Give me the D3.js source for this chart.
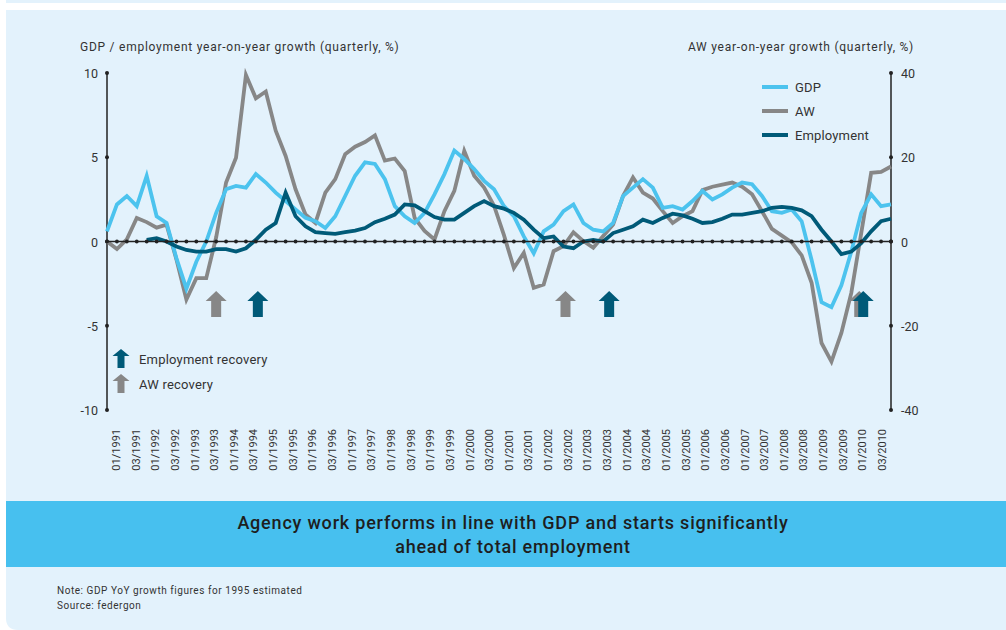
<!DOCTYPE html>
<html><head><meta charset="utf-8">
<script src="https://cdn.jsdelivr.net/npm/d3@7"></script>
<style>
html,body{margin:0;padding:0;background:#fff;}
svg{display:block;font-family:Roboto,"Open Sans",sans-serif;}
</style></head>
<body>
<svg id="c" width="1006" height="630"></svg>
<script>
// ---------- data ----------
const quarterLabels = [];
for (let y = 1991; y <= 2010; y++) { quarterLabels.push("01/" + y); quarterLabels.push("03/" + y); }
const quarters = d3.range(0, 80); // 1991Q1 .. 2010Q4

const gdp = [0.6,2.2,2.7,2.1,3.9,1.5,1.1,-1.0,-2.8,-1.2,
  0.0,1.7,3.1,3.3,3.2,4.0,3.5,2.9,2.4,1.9,
  1.4,1.2,0.8,1.5,2.7,3.9,4.7,4.6,3.7,2.1,
  1.5,1.1,1.7,2.8,4.0,5.4,4.9,4.3,3.6,3.1,
  2.1,1.5,0.3,-0.7,0.6,1.0,1.8,2.2,1.1,0.7,
  0.6,1.1,2.7,3.2,3.7,3.2,2.0,2.1,1.9,2.4,
  3.0,2.5,2.8,3.2,3.5,3.4,2.7,1.8,1.7,1.9,
  1.2,-1.1,-3.6,-3.9,-2.6,-0.6,1.7,2.8,2.1,2.2];

const employment = [null,null,null,null,0.1,0.2,0.0,-0.3,-0.5,-0.6,
  -0.6,-0.45,-0.45,-0.6,-0.4,0.1,0.7,1.1,2.9,1.5,
  0.9,0.55,0.5,0.45,0.55,0.65,0.8,1.15,1.35,1.6,
  2.2,2.15,1.8,1.45,1.3,1.3,1.7,2.1,2.4,2.1,
  1.95,1.7,1.3,0.7,0.2,0.3,-0.3,-0.4,0.0,0.1,
  0.0,0.5,0.7,0.9,1.3,1.1,1.4,1.65,1.55,1.35,
  1.1,1.15,1.35,1.6,1.6,1.7,1.8,2.0,2.05,2.0,
  1.85,1.5,0.7,0.0,-0.75,-0.6,-0.1,0.6,1.2,1.35];

const aw = [0,-1.8,0.5,5.6,4.6,3.3,4.0,-4.3,-13.8,-8.7,
  -8.7,1.0,14.0,19.9,39.5,34.0,35.6,26.3,20.3,12.4,
  6.4,4.4,11.6,14.8,20.7,22.5,23.6,25.2,19.2,19.7,
  16.7,5.6,2.5,0.5,7.2,12.0,21.5,15.6,12.8,8.5,
  1.5,-6.3,-2.7,-11.0,-10.2,-2.3,-1.1,2.2,0.1,-1.5,
  1.3,4.0,10.8,15.2,11.6,10.2,7.2,4.4,6.0,7.2,
  12.2,13.0,13.5,14.0,13.0,11.2,7.2,3.0,1.4,-0.2,
  -3.3,-9.8,-24.1,-28.5,-21.7,-12.2,2.0,16.3,16.5,17.8];

const leftTicks = [10,5,0,-5,-10];
const rightTicks = [40,20,0,-20,-40];

const seriesNames = ["GDP","AW","Employment"];
const seriesColors = ["#4cc3ee","#878787","#005a78"];

// recovery arrows: quarter position (index units) and type
const arrowPos  = [11.0, 15.2, 46.2, 50.6, 75.8, 76.2];
const arrowType = ["AW","Employment","AW","Employment","AW","Employment"];
const arrowColor = {"AW":"#878787","Employment":"#005a78"};

// ---------- drawing ----------
const svg = d3.select("#c");
const bg = "#e3f2fc";
const textCol = "#333";

// background panel
svg.append("rect").attr("x",6).attr("y",0).attr("width",1000).attr("height",3).attr("fill",bg);
svg.append("path").attr("fill",bg)
  .attr("d","M6,10 H1006 V630 H18 Q6,630 6,618 Z");

const x = d3.scaleLinear().domain([0,79]).range([107,891]);
const yL = d3.scaleLinear().domain([-10,10]).range([410,73]);
const yR = d3.scaleLinear().domain([-40,40]).range([410,73]);

// axis titles
svg.append("text").attr("x",80).attr("y",51).attr("font-size",12).attr("letter-spacing",0.75).attr("fill",textCol)
  .text("GDP / employment year-on-year growth (quarterly, %)");
svg.append("text").attr("x",914).attr("y",51).attr("text-anchor","end").attr("font-size",12).attr("letter-spacing",0.75).attr("fill",textCol)
  .text("AW year-on-year growth (quarterly, %)");

// left axis
const gL = svg.append("g");
gL.append("line").attr("x1",x(0)).attr("x2",x(0)).attr("y1",yL(10)).attr("y2",yL(-10))
  .attr("stroke","#222").attr("stroke-width",1.5);
gL.selectAll("circle").data(leftTicks).join("circle")
  .attr("cx",x(0)).attr("cy",d=>yL(d)).attr("r",2).attr("fill","#222");
gL.selectAll("text").data(leftTicks).join("text")
  .attr("x",98).attr("y",d=>yL(d)+5).attr("text-anchor","end").attr("font-size",12.5).attr("fill",textCol)
  .text(d=>d);

// right axis
const gR = svg.append("g");
gR.append("line").attr("x1",x(79)).attr("x2",x(79)).attr("y1",yR(40)).attr("y2",yR(-40))
  .attr("stroke","#222").attr("stroke-width",1.5);
gR.selectAll("circle").data(rightTicks).join("circle")
  .attr("cx",x(79)).attr("cy",d=>yR(d)).attr("r",2).attr("fill","#222");
gR.selectAll("text").data(rightTicks).join("text")
  .attr("x",901).attr("y",d=>yR(d)+5).attr("text-anchor","start").attr("font-size",12.5).attr("fill",textCol)
  .text(d=>d);

// category labels
const xl = d3.scalePoint().domain(quarterLabels).range([120,886]);
svg.append("g").selectAll("text").data(quarterLabels).join("text")
  .attr("transform",d=>`translate(${xl(d)},429) rotate(-90)`)
  .attr("text-anchor","end").attr("font-size",11).attr("fill",textCol)
  .text(d=>d);

// lines
const lineL = d3.line().defined(d=>d!=null).x((d,i)=>x(i)).y(d=>yL(d));
const lineR = d3.line().defined(d=>d!=null).x((d,i)=>x(i)).y(d=>yR(d));
const lw = 3.8;
svg.append("path").datum(aw).attr("d",lineR).attr("fill","none").attr("stroke",seriesColors[1]).attr("stroke-width",lw).attr("stroke-linejoin","miter");
svg.append("path").datum(gdp).attr("d",lineL).attr("fill","none").attr("stroke",seriesColors[0]).attr("stroke-width",lw).attr("stroke-linejoin","miter");
svg.append("path").datum(employment).attr("d",lineL).attr("fill","none").attr("stroke",seriesColors[2]).attr("stroke-width",lw).attr("stroke-linejoin","miter");

// zero line with quarter dots
svg.append("line").attr("x1",x(0)).attr("x2",x(79)).attr("y1",yL(0)).attr("y2",yL(0))
  .attr("stroke","#222").attr("stroke-width",1.5);
svg.append("g").selectAll("circle").data(quarters).join("circle")
  .attr("cx",d=>x(d)).attr("cy",yL(0)).attr("r",1.9).attr("fill","#222");

// arrows
function arrowPath(cx, top, hw, hh, sw, total){
  return `M${cx},${top} L${cx+hw/2},${top+hh} L${cx+sw/2},${top+hh} L${cx+sw/2},${top+total} L${cx-sw/2},${top+total} L${cx-sw/2},${top+hh} L${cx-hw/2},${top+hh} Z`;
}
svg.append("g").selectAll("path").data(arrowPos).join("path")
  .attr("d",d=>arrowPath(x(d), 291, 21, 10, 10, 26))
  .attr("fill",(d,i)=>arrowColor[arrowType[i]]);

// arrow legend
const aLeg = [["Employment recovery","Employment",349],["AW recovery","AW",374]];
const gA = svg.append("g");
gA.selectAll("path").data(aLeg).join("path")
  .attr("d",d=>arrowPath(121, d[2], 17, 7, 7, 19)).attr("fill",d=>arrowColor[d[1]]);
gA.selectAll("text").data(aLeg).join("text")
  .attr("x",139).attr("y",d=>d[2]+15).attr("font-size",13).attr("letter-spacing",0.2).attr("fill",textCol).text(d=>d[0]);

// series legend
const legY = [87,111,135];
const gLeg = svg.append("g");
gLeg.selectAll("line").data(seriesNames).join("line")
  .attr("x1",762).attr("x2",788).attr("y1",(d,i)=>legY[i]).attr("y2",(d,i)=>legY[i])
  .attr("stroke",(d,i)=>seriesColors[i]).attr("stroke-width",4);
gLeg.selectAll("text").data(seriesNames).join("text")
  .attr("x",795).attr("y",(d,i)=>legY[i]+5).attr("font-size",13).attr("letter-spacing",0.15).attr("fill",textCol).text(d=>d);

// title band
svg.append("rect").attr("x",6).attr("y",501).attr("width",1000).attr("height",66).attr("fill","#47c0ef");
const titleLines = ["Agency work performs in line with GDP and starts significantly","ahead of total employment"];
svg.append("g").selectAll("text").data(titleLines).join("text")
  .attr("x",513).attr("y",(d,i)=>529+i*23.5).attr("text-anchor","middle")
  .attr("font-size",18).attr("font-weight",500).attr("letter-spacing",0.8).attr("fill","#1e1e1e").text(d=>d);

// notes
const notes = ["Note: GDP YoY growth figures for 1995 estimated","Source: federgon"];
svg.append("g").selectAll("text").data(notes).join("text")
  .attr("x",57).attr("y",(d,i)=>594+i*15).attr("font-size",10).attr("letter-spacing",0.55).attr("fill",textCol).text(d=>d);
</script>
</body></html>
